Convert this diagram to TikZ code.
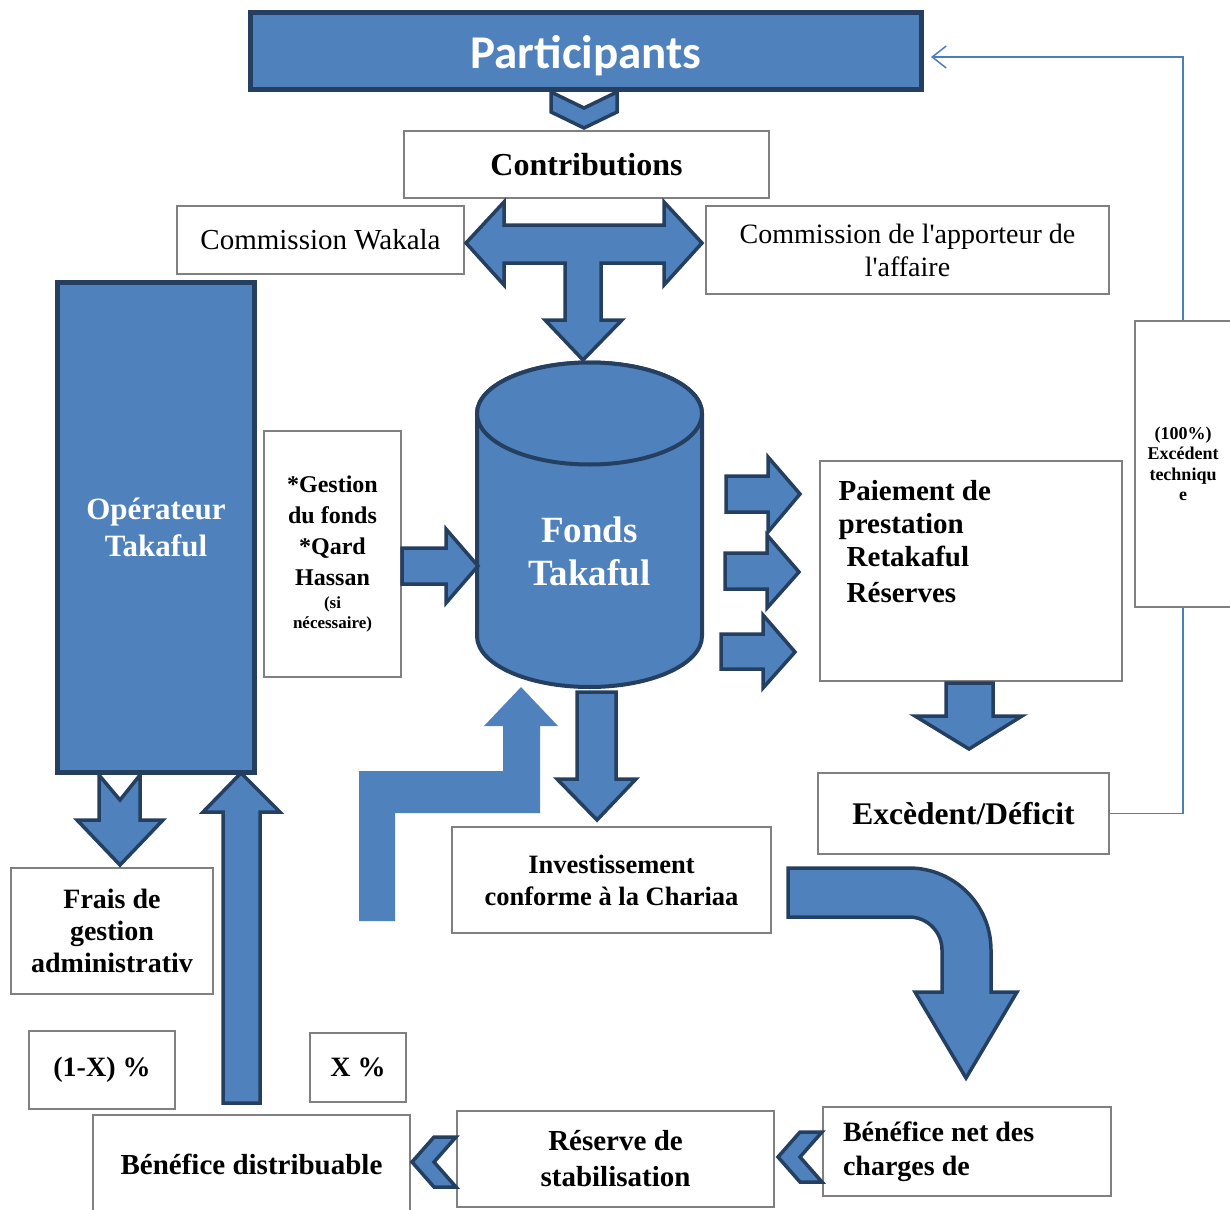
\documentclass[tikz,border=0pt]{standalone}
\usepackage{fontspec}
\setmainfont{Liberation Serif}[Ligatures=TeXOff]
\newfontfamily\calibrifont{Carlito}
\usetikzlibrary{arrows.meta}
\definecolor{takblue}{HTML}{4F81BD}
\definecolor{darkblue}{HTML}{243F60}
\definecolor{boxgrey}{HTML}{808080}
\definecolor{linkblue}{HTML}{4A7EBB}
\tikzset{
  greybox/.style={draw=boxgrey, line width=2pt, fill=white, align=center, inner sep=0pt},
  bluebox/.style={draw=darkblue, line width=5pt, fill=takblue, text=white, align=center, inner sep=0pt},
  blockarrow/.style={draw=darkblue, line width=3.5pt, fill=takblue, line join=miter},
  link/.style={draw=linkblue, line width=1.5pt}
}

\begin{document}
\begin{tikzpicture}[x=1pt, y=-1pt]
    \useasboundingbox (0,0) rectangle (1230,1209);

    \draw[blockarrow, line width=4pt] (477,413.5) -- (477,636) arc[start angle=180, end angle=360, x radius=112.5pt, y radius=51pt] -- (702,413.5) arc[start angle=0, end angle=180, x radius=112.5pt, y radius=51pt] -- cycle;
    \draw[blockarrow, line width=4pt] (589.5,413.5) ellipse [x radius=112.5pt, y radius=51pt];
    \node[text=white, align=center, font=\bfseries\fontsize{37}{43}\selectfont] (fonds) at (589.5,551) {Fonds\\Takaful};

    \node[bluebox, minimum width=671pt, minimum height=77pt, text height=35pt, text depth=0pt, font=\calibrifont\bfseries\fontsize{47}{54}\selectfont] (part) at (586,51) {Participants};
    \node[greybox, minimum width=365pt, minimum height=67pt, font=\bfseries\fontsize{32}{38}\selectfont] (contr) at (586.5,164.5) {Contributions};
    \node[greybox, minimum width=287pt, minimum height=68pt, font=\fontsize{29}{33}\selectfont] (wakala) at (320.5,240) {Commission Wakala};
    \node[greybox, minimum width=403pt, minimum height=88pt, font=\fontsize{28}{33}\selectfont] (apport) at (907.5,250) {Commission de l'apporteur de\\l'affaire};
    \node[bluebox, minimum width=197pt, minimum height=490pt, font=\bfseries\fontsize{31}{36.5}\selectfont] (oper) at (156,527.5) {Opérateur\\Takaful};
    \node[greybox, minimum width=137pt, minimum height=246pt, font=\bfseries\fontsize{24}{31}\selectfont] (gest) at (332.5,554) {*Gestion\\du fonds\\*Qard\\Hassan\\[-8pt]{\fontsize{17}{20}\selectfont (si}\\[-11pt]{\fontsize{17}{20}\selectfont nécessaire)}};
    \node[greybox, minimum width=302pt, minimum height=220pt] (paie) at (970.5,571) {};
    \node[anchor=north west, inner sep=0pt, align=left, font=\bfseries\fontsize{29}{33}\selectfont] (paietxt) at ([shift={(20,20)}]paie.north west) {Paiement de\\prestation\\\hspace{8pt}Retakaful\\[3pt]\hspace{8pt}Réserves};
    \node[greybox, minimum width=96pt, minimum height=286pt, font=\bfseries\fontsize{18}{20.5}\selectfont] (exctech) at (1183,464) {(100\%)\\Excédent\\techniqu\\e};
    \node[greybox, minimum width=291pt, minimum height=81pt, font=\bfseries\fontsize{31.5}{38}\selectfont] (excdef) at (963.5,813.5) {Excèdent/Déficit};
    \node[greybox, minimum width=319pt, minimum height=106pt, font=\bfseries\fontsize{26.5}{32}\selectfont] (invest) at (611.5,880) {Investissement\\conforme à la Chariaa};
    \node[greybox, minimum width=202pt, minimum height=126pt, font=\bfseries\fontsize{28}{32}\selectfont] (frais) at (112,931) {Frais de\\gestion\\administrativ};
    \node[greybox, minimum width=146pt, minimum height=78pt, font=\bfseries\fontsize{28}{34}\selectfont] (unmoinsx) at (102,1070) {(1-X) \%};
    \node[greybox, minimum width=96pt, minimum height=69pt, font=\bfseries\fontsize{28}{34}\selectfont] (xpct) at (358,1067.5) {X \%};
    \node[greybox, minimum width=317pt, minimum height=98pt, font=\bfseries\fontsize{29}{34}\selectfont] (benedist) at (251.5,1164) {Bénéfice distribuable};
    \node[greybox, minimum width=317pt, minimum height=96pt, font=\bfseries\fontsize{29}{36}\selectfont] (reserve) at (615.5,1159) {Réserve de\\stabilisation};
    \node[greybox, text width=248pt, inner xsep=20pt, minimum height=89pt, align=flush left, font=\bfseries\fontsize{28}{34}\selectfont] (benenet) at (967,1151.5) {Bénéfice net des\\charges de};

    \draw[blockarrow] (551,92) -- (584,108) -- (617,92) -- (617,112) -- (584,128) -- (551,112) -- cycle;
    \draw[blockarrow] (466,243) -- (504,202) -- (504,225) -- (664,225) -- (664,202) -- (702,243) -- (664,285) -- (664,263) -- (601,263) -- (601,320) -- (622,320) -- (583,360) -- (545,320) -- (565,320) -- (565,263) -- (504,263) -- (504,285) -- cycle;
    \draw[blockarrow] (402,548) -- (446,548) -- (446,529) -- (478,566) -- (446,603) -- (446,584) -- (402,584) -- cycle;
    \draw[blockarrow] (726,476) -- (768,476) -- (768,457) -- (800,494) -- (768,532) -- (768,512) -- (726,512) -- cycle;
    \draw[blockarrow] (725,553) -- (767,553) -- (767,535) -- (799,572) -- (767,608) -- (767,589) -- (725,589) -- cycle;
    \draw[blockarrow] (721,634) -- (763,634) -- (763,615) -- (795,652) -- (763,688) -- (763,669) -- (721,669) -- cycle;
    \draw[blockarrow] (946,683) -- (993,683) -- (993,716) -- (1022,716) -- (969,749) -- (915,716) -- (946,716) -- cycle;
    \draw[blockarrow] (577,692) -- (616,692) -- (616,779) -- (636,779) -- (597,820) -- (557,779) -- (577,779) -- cycle;
    \draw[blockarrow] (788,868) -- (909,868) arc[start angle=90, end angle=0, radius=82pt] -- (991,992) -- (1017,992) -- (966,1078) -- (915,992) -- (942,992) -- (942,950) arc[start angle=0, end angle=90, radius=33pt] -- (788,917) -- cycle;
    \fill[takblue] (359,921) -- (359,771) -- (503,771) -- (503,726) -- (484,726) -- (521,687) -- (558,726) -- (540,726) -- (540,813) -- (395,813) -- (395,921) -- cycle;
    \draw[blockarrow] (99,775) -- (120,800) -- (140,775) -- (140,820) -- (163,820) -- (120,865) -- (77,820) -- (99,820) -- cycle;
    \draw[blockarrow] (223,1103) -- (223,812) -- (203,812) -- (241,773) -- (280,812) -- (260,812) -- (260,1103) -- cycle;
    \draw[blockarrow] (778,1157) -- (800,1132) -- (822,1132) -- (800,1157) -- (822,1182) -- (800,1182) -- cycle;
    \draw[blockarrow] (412,1162) -- (434,1137) -- (456,1137) -- (434,1162) -- (456,1187) -- (434,1187) -- cycle;

    \coordinate (retour) at (931,57);
    \draw[link] (excdef.east) -| (exctech.south);
    \draw[link,-{Straight Barb[length=14pt,width=22pt]}] (exctech.north) |- (retour);
\end{tikzpicture}
\end{document}
